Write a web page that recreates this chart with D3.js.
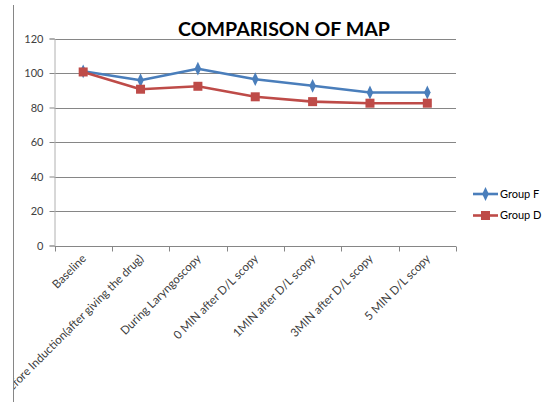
<!DOCTYPE html>
<html><head><meta charset="utf-8">
<script src="https://cdn.jsdelivr.net/npm/d3@7"></script>
<style>body{margin:0;background:#fff}svg{display:block}</style>
</head><body><svg id="c" width="546" height="402"></svg>
<script>
const categories = ["Baseline","Before Induction(after giving the drug)","During Laryngoscopy","0 MIN after D/L scopy","1MIN after D/L scopy","3MIN after D/L scopy","5 MIN D/L scopy"];
const groupF = [101, 95.8, 102.5, 96.4, 92.6, 88.7, 88.7];
const groupD = [100.6, 90.6, 92.3, 86.2, 83.4, 82.5, 82.5];
const yTicks = [0,20,40,60,80,100,120];
const seriesNames = ["Group F","Group D"];

(function(){
const svg = d3.select("#c");
const pLeft = 54.5, pRight = 456, pTop = 38.5, pBottom = 245.5;
const x = d3.scaleBand().domain(categories).range([pLeft, pRight]);
const y = d3.scaleLinear().domain([0,120]).range([pBottom, pTop]);

svg.append("defs").append("clipPath").attr("id","clip")
  .append("rect").attr("x",14).attr("y",0).attr("width",532).attr("height",402);

// outer border line
svg.append("line").attr("x1",13.5).attr("x2",13.5).attr("y1",5).attr("y2",402)
  .attr("stroke","#868686").attr("stroke-width",1);

const g = svg.append("g").attr("clip-path","url(#clip)");

// gridlines
g.selectAll(".grid").data(yTicks.filter(d=>d>0)).join("line")
  .attr("x1",pLeft).attr("x2",pRight)
  .attr("y1",d=>Math.round(y(d))+0.5).attr("y2",d=>Math.round(y(d))+0.5)
  .attr("stroke","#868686").attr("stroke-width",1);

// y axis
const ya = g.append("g").attr("transform",`translate(${pLeft},0)`)
  .call(d3.axisLeft(y).tickValues(yTicks).tickSize(5).tickPadding(6));
ya.select(".domain").attr("stroke","#b0b0b0");
ya.selectAll(".tick line").attr("stroke","#868686");
ya.selectAll(".tick text").attr("font-family","Lato, sans-serif").attr("font-size",11).attr("fill","#404040");

// x axis
const xa = g.append("g").attr("transform",`translate(0,${Math.round(pBottom)+0.5})`);
xa.append("line").attr("x1",pLeft).attr("x2",pRight).attr("stroke","#868686");
const bounds = categories.map(c=>x(c)).concat([pRight]);
xa.selectAll(".xt").data(bounds).join("line")
  .attr("x1",d=>Math.round(d)+0.5).attr("x2",d=>Math.round(d)+0.5)
  .attr("y1",0).attr("y2",5).attr("stroke","#868686");
xa.selectAll(".xl").data(categories).join("text")
  .attr("transform",d=>`translate(${x(d)+x.bandwidth()/2-2},7) rotate(-45)`)
  .attr("text-anchor","end").attr("dy","0.7em")
  .attr("font-family","Lato, sans-serif").attr("font-size",11.6).attr("fill","#404040")
  .text(d=>d);

// lines
const cx = d=>x(d)+x.bandwidth()/2;
const line = d3.line().x((d,i)=>cx(categories[i])).y(d=>y(d));
const colors = ["#4a7ebb","#be4b48"];
[groupF, groupD].forEach((s,k)=>{
  g.append("path").datum(s).attr("d",line).attr("fill","none")
    .attr("stroke",colors[k]).attr("stroke-width",2.6).attr("stroke-linejoin","round");
});
// markers
g.selectAll(".mf").data(groupF).join("path")
  .attr("d",d3.symbol(d3.symbolDiamond,38))
  .attr("transform",(d,i)=>`translate(${cx(categories[i])},${y(d)}) scale(1,1.2)`)
  .attr("fill",colors[0]);
g.selectAll(".md").data(groupD).join("rect")
  .attr("x",(d,i)=>cx(categories[i])-4.5).attr("y",d=>y(d)-4.5)
  .attr("width",9).attr("height",9).attr("fill",colors[1]);

// title
const t = svg.append("text").attr("x",284).attr("y",36).attr("text-anchor","middle")
  .attr("font-family","Lato, sans-serif").attr("font-weight","bold").attr("font-size",20)
  .attr("fill","#000").text("COMPARISON OF MAP");
const w = t.node().getComputedTextLength();
t.attr("font-size", 20*212/w);

// legend
const leg = svg.append("g");
seriesNames.forEach((n,k)=>{
  const yy = 194 + k*21.5;
  leg.append("line").attr("x1",473).attr("x2",498).attr("y1",yy).attr("y2",yy)
    .attr("stroke",colors[k]).attr("stroke-width",2.6);
  if(k===0){
    leg.append("path").attr("d",d3.symbol(d3.symbolDiamond,38)())
      .attr("transform",`translate(485.5,${yy}) scale(1,1.2)`).attr("fill",colors[0]);
  } else {
    leg.append("rect").attr("x",481).attr("y",yy-4.5).attr("width",9).attr("height",9).attr("fill",colors[1]);
  }
  leg.append("text").attr("x",500).attr("y",yy).attr("dy","0.35em")
    .attr("font-family","Lato, sans-serif").attr("font-size",11).attr("fill","#000").text(n);
});
})();
</script></body></html>
